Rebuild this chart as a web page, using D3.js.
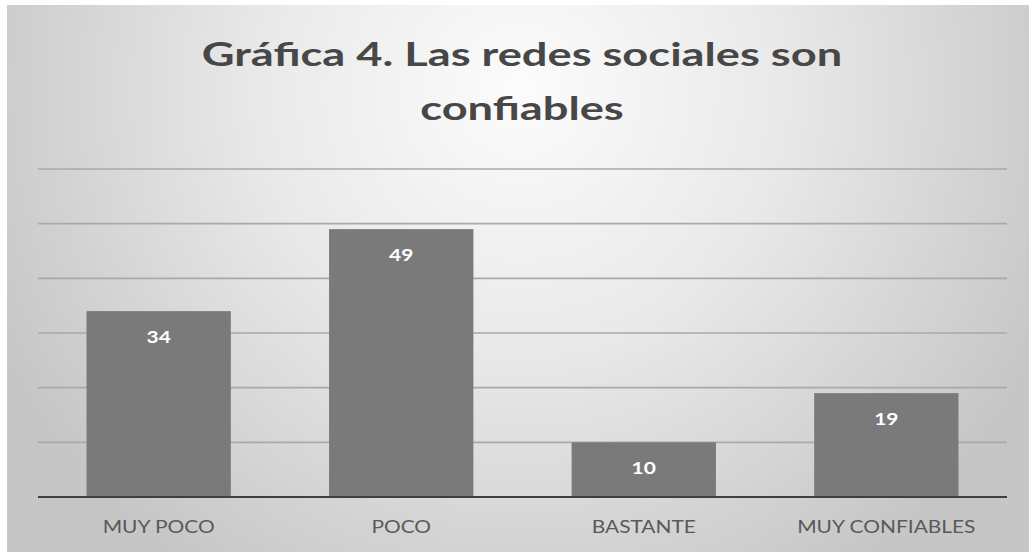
<!DOCTYPE html>
<html>
<head>
<meta charset="utf-8">
<script src="https://cdn.jsdelivr.net/npm/d3@7"></script>
<style>
  body { margin: 0; background: #fff; }
  svg { display: block; }
</style>
</head>
<body>
<script>
// data
const categories = ['MUY POCO', 'POCO', 'BASTANTE', 'MUY CONFIABLES'];
const values = [34, 49, 10, 19];
const gridTicks = [0, 10, 20, 30, 40, 50, 60];
const titleLines = ['Gráfica 4. Las redes sociales son', 'confiables'];

const width = 1029, height = 552;
const margin = {top: 169, bottom: 55, left: 38, right: 22};
// the original picture is a bit wider than tall, text looks stretched
const stretch = 1.23;

const widen = (sel, k) => sel.each(function () {
    const w = this.getComputedTextLength();
    d3.select(this)
        .attr('textLength', w * k)
        .attr('lengthAdjust', 'spacingAndGlyphs');
});

const svg = d3.select('body').append('svg')
    .attr('width', width)
    .attr('height', height);

// background gradient, light in upper middle, gray at edges
const defs = svg.append('defs');
const grad = defs.append('radialGradient')
    .attr('id', 'bg')
    .attr('gradientUnits', 'userSpaceOnUse')
    .attr('cx', 520).attr('cy', 90).attr('r', 580);
grad.append('stop').attr('offset', '0%').attr('stop-color', '#fcfcfc');
grad.append('stop').attr('offset', '45%').attr('stop-color', '#e9e9e9');
grad.append('stop').attr('offset', '100%').attr('stop-color', '#c6c6c6');

svg.append('rect')
    .attr('x', 7).attr('y', 5)
    .attr('width', width - 7).attr('height', height - 5)
    .attr('fill', 'url(#bg)');

const x = d3.scaleBand()
    .domain(categories)
    .range([margin.left, width - margin.right])
    .paddingInner(0.405)
    .paddingOuter(0.2);

const y = d3.scaleLinear()
    .domain([0, 60])
    .range([497, margin.top]);

// gridlines
svg.append('g').selectAll('line')
    .data(gridTicks.filter(d => d > 0))
    .join('line')
    .attr('x1', margin.left).attr('x2', width - margin.right)
    .attr('y1', d => y(d)).attr('y2', d => y(d))
    .attr('stroke', '#a9a9a9')
    .attr('stroke-width', 1.6);

// bars
svg.append('g').selectAll('rect')
    .data(values)
    .join('rect')
    .attr('x', (d, i) => x(categories[i]))
    .attr('y', d => y(d))
    .attr('width', x.bandwidth())
    .attr('height', d => y(0) - y(d))
    .attr('fill', '#7a7a7a');

// value labels inside bars
svg.append('g').selectAll('text')
    .data(values)
    .join('text')
    .attr('x', (d, i) => x(categories[i]) + x.bandwidth() / 2)
    .attr('y', d => y(d) + 32)
    .attr('text-anchor', 'middle')
    .attr('fill', '#ffffff')
    .attr('font-family', 'Lato, "Open Sans", sans-serif')
    .attr('font-weight', 'bold')
    .attr('font-size', 17)
    .text(d => d)
    .call(widen, stretch);

// baseline
svg.append('line')
    .attr('x1', margin.left).attr('x2', width - margin.right)
    .attr('y1', y(0)).attr('y2', y(0))
    .attr('stroke', '#3f3f3f')
    .attr('stroke-width', 2.2);

// category axis
const xAxis = d3.axisBottom(x).tickSize(0).tickPadding(0);
const xAxisG = svg.append('g')
    .attr('transform', `translate(0, ${y(0)})`)
    .call(xAxis);
xAxisG.select('.domain').remove();
xAxisG.selectAll('text')
    .attr('dy', 0)
    .attr('y', 36)
    .attr('fill', '#595959')
    .attr('font-family', 'Lato, "Open Sans", sans-serif')
    .attr('font-size', 17)
    .call(widen, stretch);

// title
const title = svg.append('g')
    .attr('font-family', 'Lato, "Open Sans", sans-serif')
    .attr('font-weight', 'bold')
    .attr('font-size', 33)
    .attr('fill', '#474747')
    .attr('text-anchor', 'middle');
title.selectAll('text')
    .data(titleLines)
    .join('text')
    .attr('x', 522)
    .attr('y', (d, i) => 66 + i * 54)
    .text(d => d)
    .call(widen, 1.37);
</script>
</body>
</html>
